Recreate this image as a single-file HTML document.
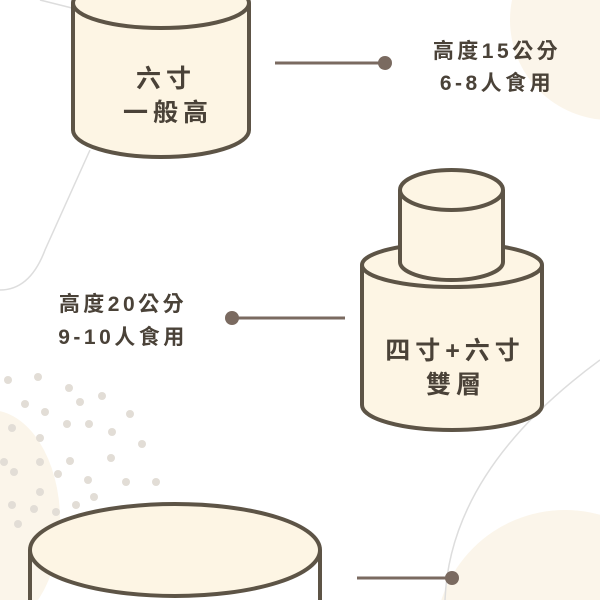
<!DOCTYPE html>
<html><head><meta charset="utf-8"><style>
html,body{margin:0;width:600px;height:600px;overflow:hidden;background:#fff}
svg{display:block}
svg text{font-family:"Liberation Sans","Noto Sans CJK TC",sans-serif;font-weight:bold;fill:#4a4238}
</style></head><body>
<svg width="600" height="600" viewBox="0 0 600 600">
<circle cx="610" cy="20" r="100" fill="#fbf5ea"/>
<circle cx="565" cy="640" r="130" fill="#fbf5ea"/>
<ellipse cx="-10" cy="520" rx="70" ry="110" fill="#fbf5ea"/>
<path d="M0 290 Q30 290 45 250 L90 150" stroke="#ddd" stroke-width="1.5" fill="none"/>
<path d="M40 0 Q60 5 72 8" stroke="#ddd" stroke-width="1.5" fill="none"/>
<path d="M600 360 Q450 470 445 600" stroke="#ddd" stroke-width="1.5" fill="none"/>
<g fill="#e2ddd6">
<circle cx="8" cy="380" r="4"/><circle cx="38" cy="377" r="4"/><circle cx="69" cy="388" r="4"/><circle cx="102" cy="396" r="4"/>
<circle cx="25" cy="404" r="4"/><circle cx="45" cy="412" r="4"/><circle cx="80" cy="402" r="4"/><circle cx="130" cy="414" r="4"/>
<circle cx="12" cy="428" r="4"/><circle cx="40" cy="438" r="4"/><circle cx="67" cy="424" r="4"/><circle cx="89" cy="424" r="4"/><circle cx="112" cy="432" r="4"/><circle cx="142" cy="444" r="4"/>
<circle cx="4" cy="462" r="4"/><circle cx="14" cy="472" r="4"/><circle cx="40" cy="462" r="4"/><circle cx="58" cy="474" r="4"/><circle cx="70" cy="461" r="4"/><circle cx="88" cy="480" r="4"/><circle cx="111" cy="458" r="4"/><circle cx="126" cy="482" r="4"/><circle cx="156" cy="482" r="4"/>
<circle cx="12" cy="505" r="4"/><circle cx="34" cy="509" r="4"/><circle cx="76" cy="505" r="4"/><circle cx="94" cy="497" r="4"/><circle cx="40" cy="492" r="4"/><circle cx="18" cy="524" r="4"/><circle cx="56" cy="512" r="4"/>
</g>
<g stroke="#5d5446" stroke-width="4" fill="#fdf5e4">
<path d="M73 3 V130 A88 27 0 0 0 249 130 V3"/>
<ellipse cx="161" cy="3" rx="88" ry="25"/>
<path d="M362 265 V405 A90 25 0 0 0 542 405 V265"/>
<ellipse cx="452" cy="265" rx="90" ry="22"/>
<path d="M400 190 V262 A51.5 18 0 0 0 503 262 V190"/>
<ellipse cx="451.5" cy="190" rx="51.5" ry="20"/>
<path d="M30 550 V602 M320 602 V550"/>
<ellipse cx="175" cy="550" rx="145" ry="46"/>
</g>
<g stroke="#7a6a60" stroke-width="3"><line x1="275" y1="63" x2="385" y2="63"/><line x1="232" y1="318" x2="345" y2="318"/><line x1="357" y1="578" x2="452" y2="578"/></g>
<g fill="#7a6a60"><circle cx="385" cy="63" r="7"/><circle cx="232" cy="318" r="7"/><circle cx="452" cy="578" r="7"/></g>
<g font-size="25" text-anchor="middle" letter-spacing="5">
<text x="166" y="87">六寸</text><text x="168" y="121">一般高</text>
<text x="455" y="359">四寸+六寸</text><text x="456" y="393">雙層</text>
</g>
<g font-size="21" text-anchor="middle" letter-spacing="3.5">
<text x="497" y="58">高度15公分</text><text x="497" y="90">6-8人食用</text>
<text x="123" y="311">高度20公分</text><text x="123" y="344">9-10人食用</text>
</g>
</svg>
</body></html>
